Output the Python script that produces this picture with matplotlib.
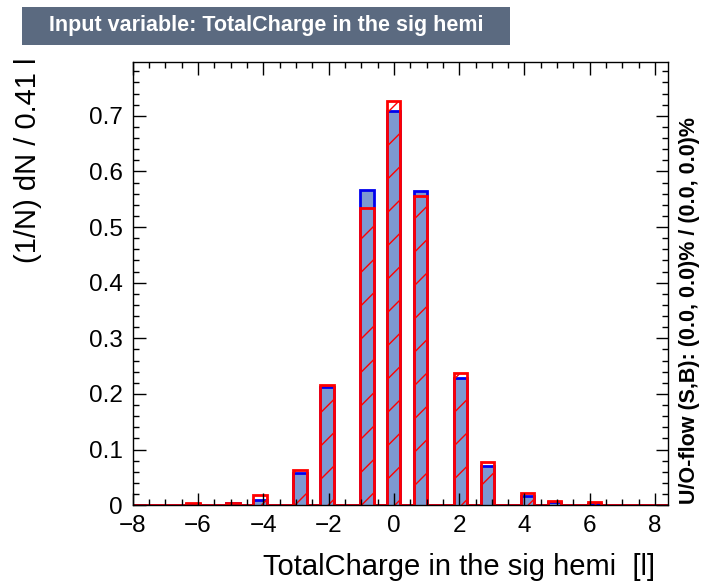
import matplotlib
matplotlib.use("Agg")
import matplotlib.pyplot as plt
import numpy as np
from matplotlib.patches import Rectangle
from matplotlib.ticker import MultipleLocator, FuncFormatter

plt.rcParams["font.family"] = ["Liberation Sans", "DejaVu Sans"]
plt.rcParams["hatch.linewidth"] = 1.0

# binning of the input variable
x_min = -8.0
bin_width = 0.41
n_bins = 40

# total charge values that are populated, with normalised entries per bin
charges = [-6, -5, -4, -3, -2, -1, 0, 1, 2, 3, 4, 5, 6]
signal = [0.002, 0.003, 0.010, 0.058, 0.213, 0.567, 0.708, 0.565, 0.228, 0.071, 0.016, 0.005, 0.002]
background = [0.003, 0.004, 0.018, 0.064, 0.216, 0.535, 0.727, 0.555, 0.238, 0.077, 0.022, 0.008, 0.005]

edges = x_min + bin_width * np.arange(n_bins + 1)
sig_h, _ = np.histogram(charges, bins=edges, weights=signal)
bkg_h, _ = np.histogram(charges, bins=edges, weights=background)

fig = plt.figure(figsize=(7.1, 5.84), dpi=100)
ax = fig.add_axes([0.187, 0.135, 0.754, 0.759])

# signal: filled blue histogram
ax.stairs(sig_h, edges, fill=True, color="#7d99d1", lw=0)
ax.stairs(sig_h, edges, color="#0000ee", lw=2)
# background: red hatched histogram drawn on top
ax.stairs(bkg_h, edges, fill=True, facecolor="none", edgecolor="#ff0000",
          hatch="/", lw=0)
ax.stairs(bkg_h, edges, color="#ff0000", lw=2)

ax.set_xlim(x_min, edges[-1])
ax.set_ylim(0, 0.797)

ax.xaxis.set_major_locator(MultipleLocator(2))
ax.xaxis.set_minor_locator(MultipleLocator(0.5))
ax.yaxis.set_major_locator(MultipleLocator(0.1))
ax.yaxis.set_minor_locator(MultipleLocator(0.02))
ax.yaxis.set_major_formatter(FuncFormatter(lambda v, p: "0" if abs(v) < 1e-9 else f"{v:.1f}"))
ax.tick_params(which="both", direction="in", top=True, right=True,
               labelsize=17.5, width=1, color="black")
ax.tick_params(which="major", length=9)
ax.tick_params(which="minor", length=4.5)
ax.tick_params(axis="x", pad=7)
ax.tick_params(axis="y", pad=7)
for s in ax.spines.values():
    s.set_linewidth(1)

ax.xaxis.set_label_coords(0.975, -0.14)
ax.set_xlabel("TotalCharge in the sig hemi  [l]", fontsize=21, ha="right", va="center")
ax.yaxis.set_label_coords(-0.195, 1.01)
ax.set_ylabel("(1/N) dN / 0.41 l", fontsize=21, ha="right", va="center")

# overflow note at the right side
fig.text(0.971, 0.137, "U/O-flow (S,B): (0.0, 0.0)% / (0.0, 0.0)%", rotation=90,
         ha="center", va="bottom", fontsize=15.5, fontweight="bold")

# title banner
fig.patches.append(Rectangle((0.031, 0.923), 0.688, 0.065, transform=fig.transFigure,
                             facecolor="#5b6a80", edgecolor="none"))
fig.text(0.375, 0.956, "Input variable: TotalCharge in the sig hemi", color="white",
         ha="center", va="center", fontsize=15.5, fontweight="bold")

fig.savefig("out.png", dpi=100)
